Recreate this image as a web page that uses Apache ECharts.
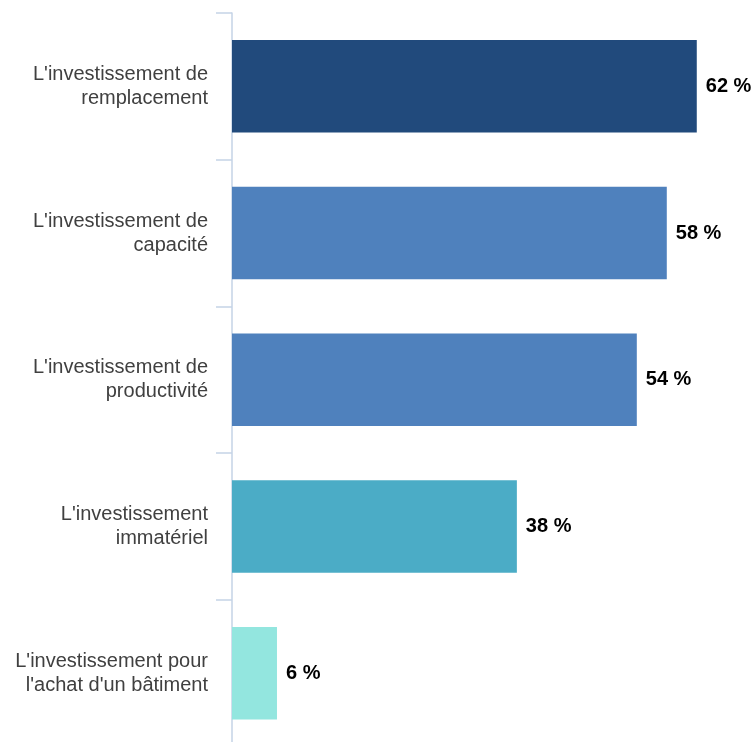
<!DOCTYPE html>
<html>
<head>
<meta charset="utf-8">
<script src="https://cdn.jsdelivr.net/npm/echarts@6/dist/echarts.min.js"></script>
<style>html,body{margin:0;padding:0;background:#fff;overflow:hidden;}#c{width:753px;height:760px;}</style>
</head>
<body>
<div id="c"></div>
<script>
const categories = [
  "L'investissement de\nremplacement",
  "L'investissement de\ncapacité",
  "L'investissement de\nproductivité",
  "L'investissement\nimmatériel",
  "L'investissement pour\nl'achat d'un bâtiment"
];
const values = [62, 58, 54, 38, 6];
const barColors = ["#214A7C", "#4F81BD", "#4F81BD", "#4BACC6", "#93E6DF"];

const chart = echarts.init(document.getElementById('c'), null, {renderer: 'canvas'});
chart.setOption({
  animation: false,
  grid: {left: 232, top: 12.9, right: 0, height: 733.75, containLabel: false},
  xAxis: {type: 'value', min: 0, max: 69.5, show: false},
  yAxis: {
    type: 'category',
    data: categories,
    inverse: true,
    axisLine: {show: true, lineStyle: {color: '#C5D3E6', width: 1.5}},
    axisTick: {show: true, length: 16, lineStyle: {color: '#C5D3E6', width: 1.5}},
    axisLabel: {
      margin: 24,
      fontFamily: 'Liberation Sans, Arial, sans-serif',
      fontSize: 20,
      lineHeight: 24,
      color: '#404040',
      align: 'right'
    }
  },
  series: [{
    type: 'bar',
    barWidth: 92.5,
    data: values.map((v, i) => ({value: v, itemStyle: {color: barColors[i]}})),
    label: {
      show: true,
      position: 'right',
      distance: 9,
      formatter: p => p.value + ' %',
      fontFamily: 'Liberation Sans, Arial, sans-serif',
      fontWeight: 'bold',
      fontSize: 20,
      color: '#000'
    }
  }]
});
</script>
</body>
</html>
